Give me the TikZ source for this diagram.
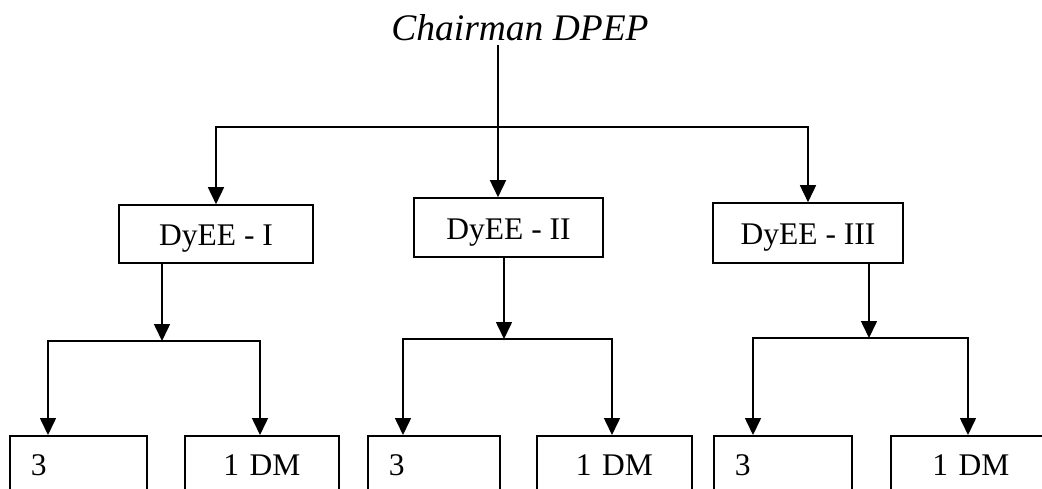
\documentclass[tikz,border=0pt]{standalone}
\usepackage{fontspec}
\setmainfont{Liberation Serif}
\usetikzlibrary{arrows.meta}
\begin{document}
\begin{tikzpicture}[x=1pt,y=-1pt,line width=1.6pt,
  tip/.tip={Triangle[width=16pt,length=17pt]},
  arr/.style={-tip},
  arrs/.style={tip-tip},
  box/.style={draw,line width=1.6pt,inner sep=0pt,font=\fontsize{31.5}{36}\selectfont},
  midbox/.style={box,text height=23pt,text depth=0pt},
  leafl/.style={box,anchor=north west,inner ysep=0pt,inner xsep=21pt,text height=40pt,text depth=90pt,align=left,text width=#1},
  leafc/.style={box,anchor=north west,inner ysep=0pt,inner xsep=0pt,text height=40pt,text depth=90pt,align=center,text width=#1}]
\useasboundingbox (0,0) rectangle (1042,488);
\clip (0,0) rectangle (1042,488);

% title
\node[font=\fontsize{37.5}{42}\selectfont\itshape,anchor=base] (T) at (520,40) {Chairman DPEP};
\coordinate (mx) at (498,0);
\coordinate (j0) at (498,127);

% second level
\node[midbox,minimum width=194pt,minimum height=58pt] (D1) at (216,234) {DyEE - I};
\node[midbox,minimum width=189pt,minimum height=59pt] (D2) at (508.5,227.5) {DyEE - II};
\node[midbox,minimum width=190pt,minimum height=60pt] (D3) at (808,233) {DyEE - III};

\draw[arrs] (D1.north) |- (D3.north |- j0) -- (D3.north);
\draw[arr] (T.south -| mx) -- (mx |- D2.north);

% third level
\node[leafl=95pt]  (A3) at (9,435)   {3};
\node[leafc=154pt] (A1) at (184,435) {1 DM};
\node[leafl=90pt]  (B3) at (367,435) {3};
\node[leafc=155pt] (B1) at (536,435) {1 DM};
\node[leafl=96pt]  (C3) at (713,435) {3};
\node[leafc=160pt] (C1) at (890,435) {1 DM};

% group A
\coordinate (jA) at (162,341);
\coordinate (aL) at (48,341);
\coordinate (aR) at (260,341);
\draw[arr] (D1.south -| jA) -- (jA);
\draw[arrs] (aL |- A3.north) -- (aL) -- (aR) -- (aR |- A1.north);

% group B
\coordinate (jB) at (504,339);
\coordinate (bL) at (403,339);
\coordinate (bR) at (612,339);
\draw[arr] (D2.south -| jB) -- (jB);
\draw[arrs] (bL |- B3.north) -- (bL) -- (bR) -- (bR |- B1.north);

% group C
\coordinate (jC) at (869,338);
\coordinate (cL) at (753,338);
\coordinate (cR) at (968,338);
\draw[arr] (D3.south -| jC) -- (jC);
\draw[arrs] (cL |- C3.north) -- (cL) -- (cR) -- (cR |- C1.north);
\end{tikzpicture}
\end{document}
